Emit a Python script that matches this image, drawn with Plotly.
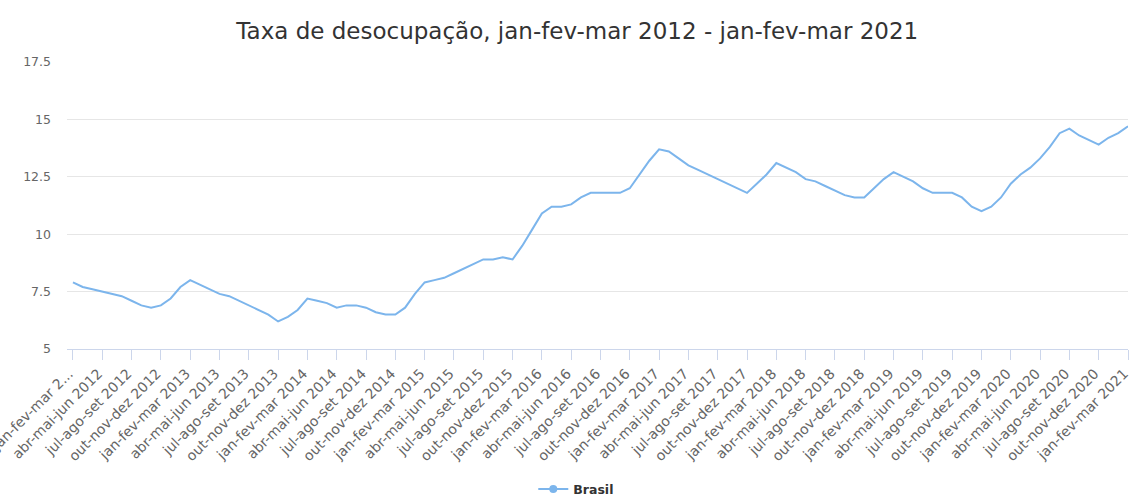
import plotly.graph_objects as go

# ---- data ----
trimestres = [
    "jan-fev-mar", "fev-mar-abr", "mar-abr-mai", "abr-mai-jun", "mai-jun-jul", "jun-jul-ago",
    "jul-ago-set", "ago-set-out", "set-out-nov", "out-nov-dez", "nov-dez-jan", "dez-jan-fev",
]

taxa_2012 = [7.9, 7.7, 7.6, 7.5, 7.4, 7.3, 7.1, 6.9, 6.8, 6.9]
taxa_2013 = [7.2, 7.7, 8.0, 7.8, 7.6, 7.4, 7.3, 7.1, 6.9, 6.7, 6.5, 6.2]
taxa_2014 = [6.4, 6.7, 7.2, 7.1, 7.0, 6.8, 6.9, 6.9, 6.8, 6.6, 6.5, 6.5]
taxa_2015 = [6.8, 7.4, 7.9, 8.0, 8.1, 8.3, 8.5, 8.7, 8.9, 8.9, 9.0, 8.9]
taxa_2016 = [9.5, 10.2, 10.9, 11.2, 11.2, 11.3, 11.6, 11.8, 11.8, 11.8, 11.8, 12.0]
taxa_2017 = [12.6, 13.2, 13.7, 13.6, 13.3, 13.0, 12.8, 12.6, 12.4, 12.2, 12.0, 11.8]
taxa_2018 = [12.2, 12.6, 13.1, 12.9, 12.7, 12.4, 12.3, 12.1, 11.9, 11.7, 11.6, 11.6]
taxa_2019 = [12.0, 12.4, 12.7, 12.5, 12.3, 12.0, 11.8, 11.8, 11.8, 11.6, 11.2, 11.0]
taxa_2020 = [11.2, 11.6, 12.2, 12.6, 12.9, 13.3, 13.8, 14.4, 14.6, 14.3, 14.1, 13.9]
taxa_2021 = [14.2, 14.4, 14.7]

brasil = (taxa_2012 + taxa_2013 + taxa_2014 + taxa_2015 + taxa_2016 +
          taxa_2017 + taxa_2018 + taxa_2019 + taxa_2020 + taxa_2021)

# moving-quarter names for every point (hover text)
categorias = [f"{trimestres[k % 12]} {2012 + k // 12}" for k in range(len(brasil))]

# tick labels (every 3rd moving quarter, as in the reference)
rotulos = []
for a in range(2012, 2021):
    for t in ["jan-fev-mar", "abr-mai-jun", "jul-ago-set", "out-nov-dez"]:
        rotulos.append(f"{t} {a}")
rotulos.append("jan-fev-mar 2021")

x_idx = list(range(len(brasil)))
tick_pos = list(range(0, len(brasil), 3))
tick_text = list(rotulos)
tick_text[0] = "jan-fev-mar 2..."

titulo = "Taxa de desocupação, jan-fev-mar 2012 - jan-fev-mar 2021"
COR = "#7cb5ec"
FONTE = "DejaVu Sans"

fig = go.Figure()
fig.add_trace(go.Scatter(
    x=x_idx, y=brasil, mode="lines", name="Brasil",
    line=dict(color=COR, width=2), showlegend=False,
    text=categorias, hovertemplate="%{text}<br>Brasil: %{y}<extra></extra>",
))
fig.add_trace(go.Scatter(
    x=[None], y=[None], mode="lines+markers", name="Brasil",
    line=dict(color=COR, width=2), marker=dict(color=COR, size=8, symbol="circle"),
))

fig.update_layout(
    width=1133, height=509,
    paper_bgcolor="white", plot_bgcolor="white",
    margin=dict(l=67, r=5, t=62, b=151),
    font=dict(family=FONTE, color="#666666"),
    title=dict(text=titulo, x=0.5095, xanchor="center", y=0.939, yanchor="middle",
               font=dict(family=FONTE, size=23, color="#333333")),
    xaxis=dict(
        range=[-0.61, len(brasil) - 1], tickmode="array", tickvals=tick_pos, ticktext=tick_text,
        tickangle=-45, tickfont=dict(size=14, color="#666666"),
        showgrid=False, showline=True, linecolor="#ccd6eb", linewidth=1,
        ticks="outside", ticklen=10, tickcolor="#ccd6eb", tickwidth=1,
        zeroline=False, automargin=False, ticklabeloverflow="allow",
        ticklabelshift=-4,
    ),
    yaxis=dict(
        range=[5, 17.5], dtick=2.5, tick0=5, showgrid=True, gridcolor="#e6e6e6",
        gridwidth=1, zeroline=False, showline=False,
        tickfont=dict(size=12.5, color="#666666"), ticklabelstandoff=15,
        automargin=False,
    ),
    legend=dict(orientation="h", x=0.48, xanchor="center", y=-0.489, yanchor="middle",
                font=dict(family=FONTE, size=12.5, color="#333333", weight="bold"),
                bgcolor="rgba(0,0,0,0)"),
)

fig.write_html(
    "out.html",
    config={"displayModeBar": False},
    post_script="document.body.style.margin='0';document.body.style.overflow='hidden';",
)
